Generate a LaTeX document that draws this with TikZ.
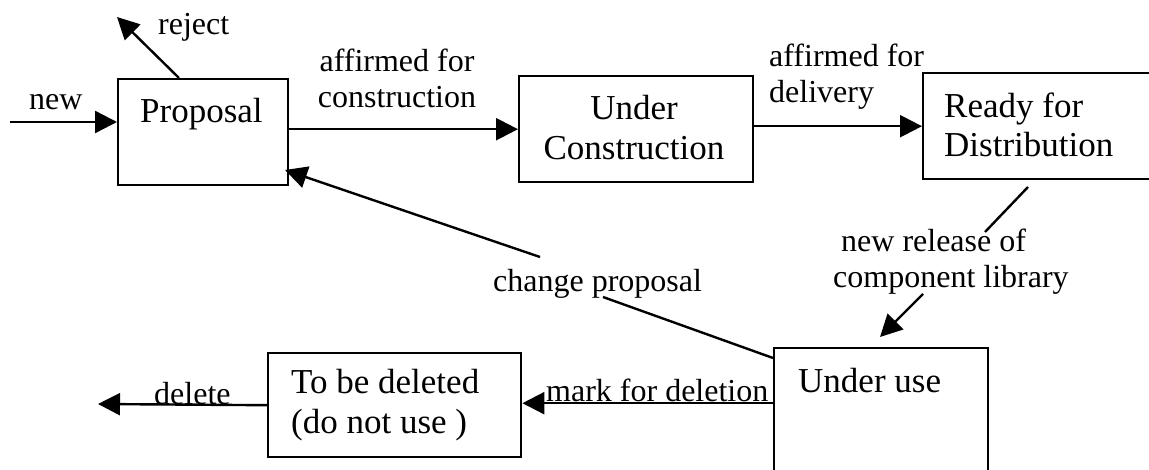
\documentclass[tikz,border=0pt]{standalone}
\usepackage{fontspec}
\setmainfont{Liberation Serif}
\usetikzlibrary{arrows.meta,calc}
\begin{document}
\begin{tikzpicture}[x=1pt,y=-1pt,
  line width=2.4pt,
  statebox/.style={draw,rectangle,inner sep=0pt,anchor=north west},
  boxtext/.style={inner sep=0pt,font=\fontsize{35}{40}\selectfont},
  lbl/.style={inner sep=0pt,font=\fontsize{32}{36}\selectfont},
  arr/.style={-{Triangle[length=22pt,width=22pt]}}]
\useasboundingbox (0,0) rectangle (1149,470);
\clip (0,0) rectangle (1149,470);
\fill[white] (0,0) rectangle (1149,470);

% states
\node[statebox,minimum width=170pt,minimum height=106pt] (prop) at (117,78) {};
\node[statebox,minimum width=234pt,minimum height=106pt] (ucon) at (518,75) {};
\node[statebox,minimum width=300pt,minimum height=106pt] (ready) at (922,72) {};
\node[statebox,minimum width=214pt,minimum height=180pt] (use) at (773,347) {};
\node[statebox,minimum width=253pt,minimum height=104pt] (del) at (267,352) {};

% state names
\node[boxtext,anchor=base west] (tprop) at (139,123) {Proposal};
\node[boxtext,anchor=base] (tucon1) at (634,120) {Under};
\node[boxtext,anchor=base] (tucon2) at (634,160) {Construction};
\node[boxtext,anchor=base west] (tready1) at (943,118) {Ready for};
\node[boxtext,anchor=base west] (tready2) at (943,157) {Distribution};
\node[boxtext,anchor=base west] (tuse) at (797,392) {Under use};
\node[boxtext,anchor=base west] (tdel1) at (290,393) {To be deleted};
\node[boxtext,anchor=base west] (tdel2) at (290,433) {(do not use )};

% transition labels
\node[lbl,anchor=base west] (lnew) at (28,110) {new};
\node[lbl,anchor=base west] (lrej) at (157,35) {reject};
\node[lbl,anchor=base] (lac1) at (397,72) {affirmed for};
\node[lbl,anchor=base] (lac2) at (397,108) {construction};
\node[lbl,anchor=base west] (lad1) at (768,67) {affirmed for};
\node[lbl,anchor=base west] (lad2) at (768,103) {delivery};
\node[lbl,anchor=base west] (lrel1) at (840,252) {new release of};
\node[lbl,anchor=base west] (lrel2) at (832,288) {component library};
\node[lbl,anchor=base west] (lchg) at (492,292) {change proposal};
\node[lbl,anchor=base west] (lmark) at (545,402) {mark for deletion};
\node[lbl,anchor=base west] (ldel) at (153,404) {delete};

% free ends and bends of connectors
\coordinate (newstart) at (10,122);
\coordinate (rejtip) at (117,17);
\coordinate (relA) at (1028,187);
\coordinate (relB) at (985,232);
\coordinate (relC) at (923,294);
\coordinate (relD) at (880,337);
\coordinate (chgA) at (603,297);
\coordinate (chgB) at (540,257);
\coordinate (chgtip) at (285,170);
\coordinate (delend) at (98,404);

% transitions
\draw[arr] (newstart) -- (newstart -| prop.west);
\draw[arr] ($(prop.north west)+(62,0)$) -- (rejtip);
\draw[arr] (ucon.west -| prop.east) -- (ucon.west);
\draw[arr] (ready.west -| ucon.east) -- (ready.west);
\draw (relA) -- (relB);
\draw[arr] (relC) -- (relD);
\draw ($(use.north west)+(0,11)$) -- (chgA);
\draw[arr] (chgB) -- (chgtip);
\draw[arr] ($(use.west |- del.east)+(0,-2)$) -- ($(del.east)+(0,-2)$);
\draw[arr] (del.west) -- (delend);
\end{tikzpicture}
\end{document}
